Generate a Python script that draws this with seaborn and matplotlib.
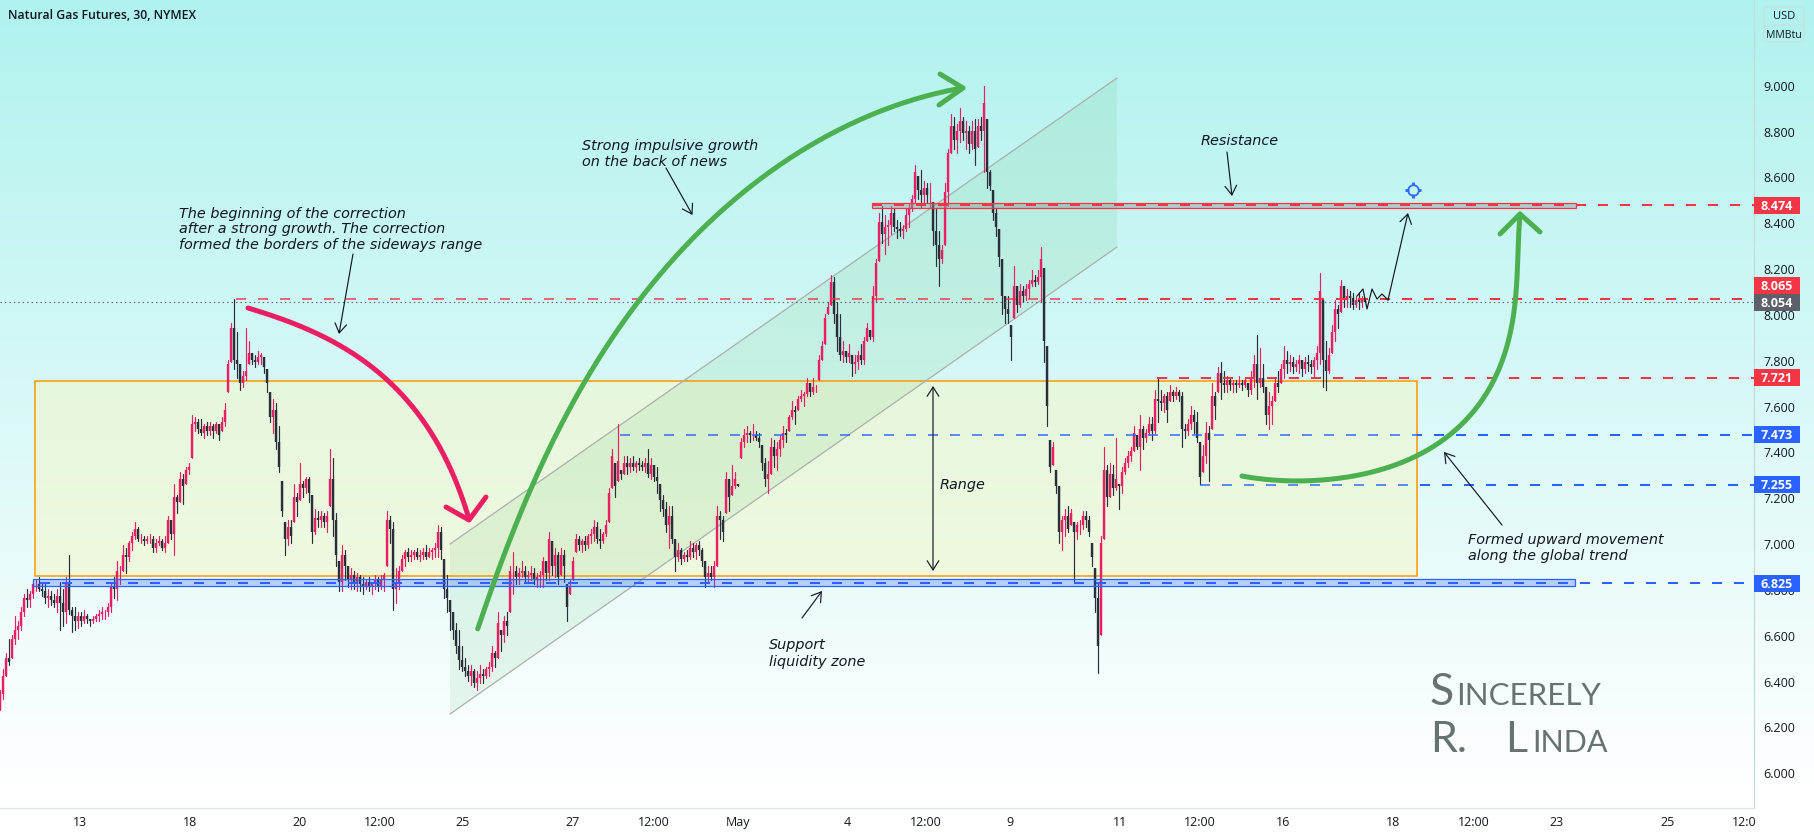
import numpy as np
import pandas as pd
import matplotlib
matplotlib.use("Agg")
import matplotlib.pyplot as plt
import matplotlib.transforms as mtransforms
from matplotlib.patches import Polygon, Rectangle, FancyBboxPatch
from matplotlib.colors import LinearSegmentedColormap
import seaborn as sns

# ---------- data ----------
bar_high = [
6.36,6.45,6.52,6.58,6.60,6.68,6.66,6.72,6.78,6.80,
6.79,6.83,6.84,6.85,6.83,6.82,6.80,6.79,6.78,6.80,
6.83,6.80,6.85,6.95,6.72,6.72,6.70,6.70,6.71,6.69,
6.67,6.68,6.69,6.71,6.72,6.71,6.74,6.83,6.85,6.92,
6.90,6.99,6.98,7.01,7.05,7.09,7.07,7.04,7.03,7.03,
7.04,7.03,7.02,7.03,7.02,7.03,7.12,7.10,7.26,7.21,
7.31,7.30,7.33,7.35,7.56,7.55,7.54,7.54,7.52,7.53,
7.53,7.52,7.53,7.52,7.55,7.61,7.80,7.96,8.065,7.92,
7.78,7.75,7.94,7.88,7.83,7.82,7.84,7.83,7.81,7.76,
7.66,7.63,7.61,7.51,7.27,7.09,7.10,7.10,7.26,7.22,
7.35,7.27,7.29,7.29,7.21,7.15,7.14,7.14,7.13,7.14,
7.41,7.37,7.13,6.92,6.99,6.97,6.90,6.89,6.88,6.87,
6.86,6.85,6.84,6.85,6.83,6.86,6.85,6.86,6.87,7.14,
7.12,7.09,6.89,6.90,6.95,6.97,6.98,6.97,6.97,6.98,
6.97,6.98,6.99,6.98,6.98,7.00,7.08,7.07,6.93,6.86,
6.75,6.70,6.65,6.62,6.55,6.50,6.47,6.47,6.45,6.44,
6.47,6.45,6.46,6.48,6.55,6.53,6.70,6.62,6.68,6.70,
6.90,6.96,6.90,6.89,6.92,6.90,6.88,6.90,6.89,6.87,
6.88,6.94,6.92,7.05,7.01,6.98,6.96,6.98,6.97,6.82,
6.84,6.94,7.04,7.03,7.02,7.03,7.04,7.06,7.10,7.09,
7.06,7.05,7.10,7.24,7.41,7.35,7.52,7.32,7.38,7.38,
7.37,7.38,7.36,7.37,7.36,7.37,7.41,7.37,7.34,7.33,
7.26,7.21,7.18,7.16,7.16,7.02,7.00,6.98,6.96,6.97,
7.01,7.00,7.00,7.01,6.98,6.92,6.90,6.90,6.92,7.16,
7.14,7.12,7.31,7.28,7.34,7.31,7.26,7.46,7.50,7.51,
7.49,7.52,7.49,7.48,7.43,7.37,7.36,7.46,7.45,7.44,
7.47,7.51,7.50,7.56,7.62,7.60,7.64,7.67,7.66,7.72,
7.70,7.72,7.69,7.82,7.88,8.00,8.05,8.17,8.16,8.05,
8.00,7.88,7.84,7.87,7.82,7.82,7.84,7.87,7.90,7.96,
7.93,8.12,8.24,8.44,8.47,8.43,8.41,8.47,8.46,8.41,
8.40,8.39,8.46,8.48,8.52,8.65,8.60,8.63,8.58,8.57,
8.57,8.49,8.46,8.36,8.30,8.57,8.72,8.87,8.86,8.83,
8.90,8.86,8.84,8.82,8.84,8.85,8.85,8.86,8.995,8.85,
8.63,8.54,8.46,8.37,8.24,8.08,8.08,7.95,8.21,8.12,
8.13,8.12,8.13,8.15,8.19,8.17,8.19,8.29,8.20,7.86,
7.45,7.44,7.32,7.25,7.12,7.15,7.16,7.15,7.09,7.09,
7.10,7.14,7.14,7.12,7.00,6.89,6.83,7.03,7.42,7.34,
7.35,7.34,7.46,7.26,7.33,7.37,7.40,7.42,7.51,7.47,
7.56,7.51,7.50,7.55,7.55,7.67,7.72,7.67,7.65,7.66,
7.69,7.67,7.68,7.67,7.66,7.52,7.54,7.60,7.58,7.57,
7.44,7.43,7.53,7.51,7.70,7.66,7.77,7.79,7.75,7.73,
7.72,7.71,7.71,7.73,7.71,7.72,7.70,7.75,7.82,7.91,
7.85,7.78,7.68,7.66,7.64,7.72,7.75,7.78,7.86,7.84,
7.82,7.81,7.80,7.82,7.80,7.81,7.82,7.80,7.81,7.86,
8.18,8.06,7.88,7.85,7.95,8.06,8.04,8.15,8.12,8.11,
8.10,8.09,8.08,8.09,8.08,8.07]
bar_low = [
6.27,6.32,6.42,6.47,6.50,6.56,6.58,6.62,6.68,6.72,
6.72,6.76,6.79,6.79,6.77,6.74,6.72,6.73,6.72,6.70,
6.62,6.64,6.65,6.69,6.61,6.62,6.63,6.64,6.65,6.65,
6.64,6.65,6.66,6.66,6.67,6.67,6.68,6.70,6.76,6.75,
6.82,6.88,6.87,6.92,6.97,7.02,7.01,7.00,6.99,7.00,
7.00,6.96,6.96,6.99,6.97,6.96,7.00,7.02,6.95,7.13,
7.18,7.17,7.26,7.30,7.37,7.49,7.48,7.47,7.46,7.47,
7.47,7.46,7.48,7.45,7.49,7.51,7.66,7.79,7.76,7.72,
7.67,7.68,7.71,7.78,7.78,7.77,7.78,7.78,7.74,7.66,
7.53,7.48,7.41,7.31,7.12,6.95,6.99,7.00,7.09,7.12,
7.19,7.20,7.22,7.18,7.00,7.04,7.07,7.07,7.07,7.05,
7.16,7.03,6.90,6.79,6.79,6.84,6.81,6.80,6.80,6.79,
6.79,6.78,6.80,6.79,6.78,6.80,6.79,6.80,6.79,6.90,
7.00,6.71,6.74,6.80,6.88,6.90,6.92,6.92,6.93,6.93,
6.92,6.93,6.93,6.94,6.93,6.94,6.94,6.93,6.76,6.70,
6.62,6.58,6.52,6.45,6.44,6.42,6.40,6.38,6.37,6.36,
6.39,6.39,6.41,6.42,6.44,6.46,6.50,6.53,6.57,6.60,
6.70,6.78,6.82,6.82,6.85,6.83,6.83,6.84,6.82,6.81,
6.81,6.81,6.84,6.84,6.86,6.85,6.82,6.86,6.83,6.66,
6.78,6.84,6.96,6.97,6.96,6.97,6.98,7.00,7.01,7.00,
6.98,7.00,7.03,7.09,7.24,7.20,7.27,7.28,7.30,7.30,
7.31,7.32,7.31,7.32,7.32,7.31,7.29,7.28,7.27,7.22,
7.14,7.12,7.05,6.98,7.00,6.88,6.92,6.91,6.92,6.92,
6.93,6.94,6.93,6.95,6.90,6.81,6.83,6.84,6.81,6.90,
7.02,7.01,7.13,7.14,7.21,7.24,7.25,7.37,7.42,7.44,
7.44,7.45,7.45,7.42,7.32,7.25,7.22,7.30,7.33,7.32,
7.38,7.42,7.44,7.49,7.54,7.52,7.58,7.62,7.60,7.64,
7.64,7.65,7.66,7.71,7.80,7.87,8.00,8.04,7.96,7.84,
7.80,7.79,7.79,7.79,7.73,7.74,7.76,7.78,7.78,7.88,
7.89,7.88,8.05,8.23,8.31,8.26,8.30,8.35,8.36,8.33,
8.34,8.33,8.36,8.38,8.45,8.49,8.50,8.46,8.48,8.49,
8.46,8.30,8.21,8.12,8.22,8.30,8.47,8.70,8.72,8.70,
8.75,8.76,8.72,8.70,8.72,8.65,8.73,8.76,8.62,8.55,
8.54,8.41,8.34,8.21,8.00,7.96,7.96,7.80,7.98,8.01,
8.03,8.05,8.06,8.07,8.12,8.12,8.13,8.05,7.79,7.51,
7.31,7.34,7.22,7.00,6.97,7.03,7.05,7.08,6.83,7.02,
7.04,7.06,7.07,7.03,6.90,6.70,6.435,6.60,7.02,7.16,
7.20,7.21,7.23,7.15,7.22,7.30,7.33,7.36,7.40,7.41,
7.32,7.41,7.44,7.47,7.45,7.48,7.53,7.58,7.57,7.53,
7.62,7.62,7.63,7.62,7.42,7.46,7.47,7.50,7.48,7.44,
7.26,7.31,7.35,7.27,7.50,7.54,7.66,7.63,7.66,7.66,
7.67,7.66,7.66,7.68,7.67,7.68,7.64,7.65,7.68,7.63,
7.68,7.66,7.52,7.50,7.52,7.62,7.66,7.70,7.72,7.74,
7.75,7.74,7.75,7.74,7.73,7.74,7.75,7.74,7.73,7.76,
7.78,7.68,7.67,7.74,7.83,7.88,7.94,8.01,8.03,8.03,
8.03,8.02,8.03,8.02,8.03,8.05]
bar_close = [
6.34,6.42,6.50,6.48,6.58,6.62,6.64,6.70,6.76,6.75,
6.78,6.82,6.82,6.80,6.79,6.76,6.77,6.75,6.74,6.77,
6.74,6.70,6.82,6.71,6.68,6.66,6.68,6.66,6.68,6.67,
6.66,6.67,6.68,6.69,6.70,6.70,6.72,6.81,6.80,6.88,
6.88,6.95,6.94,7.00,7.03,7.06,7.02,7.02,7.01,7.02,
7.02,6.98,7.00,7.01,6.98,7.00,7.10,7.04,7.20,7.18,
7.28,7.25,7.32,7.33,7.52,7.53,7.50,7.48,7.51,7.49,
7.51,7.49,7.52,7.47,7.53,7.58,7.78,7.94,7.80,7.78,
7.70,7.73,7.75,7.83,7.80,7.79,7.81,7.82,7.77,7.70,
7.55,7.58,7.44,7.33,7.14,7.02,7.07,7.03,7.20,7.18,
7.26,7.24,7.28,7.22,7.05,7.11,7.10,7.12,7.09,7.12,
7.28,7.10,6.95,6.83,6.95,6.90,6.84,6.86,6.82,6.85,
6.82,6.81,6.83,6.81,6.82,6.84,6.81,6.84,6.86,7.10,
7.06,6.80,6.83,6.88,6.93,6.96,6.94,6.95,6.96,6.94,
6.95,6.96,6.94,6.96,6.97,6.98,7.05,6.97,6.80,6.76,
6.70,6.62,6.55,6.49,6.46,6.44,6.42,6.44,6.39,6.41,
6.43,6.42,6.45,6.46,6.52,6.50,6.65,6.60,6.66,6.64,
6.88,6.88,6.85,6.87,6.88,6.85,6.86,6.87,6.84,6.85,
6.86,6.92,6.87,7.02,6.90,6.95,6.85,6.95,6.90,6.72,
6.81,6.92,7.02,6.99,7.01,6.99,7.03,7.04,7.07,7.02,
7.01,7.04,7.08,7.22,7.38,7.25,7.36,7.30,7.35,7.33,
7.35,7.33,7.35,7.34,7.33,7.35,7.30,7.34,7.29,7.27,
7.19,7.15,7.08,7.12,7.02,6.94,6.97,6.93,6.95,6.94,
6.98,6.96,6.99,6.97,6.92,6.85,6.87,6.85,6.90,7.12,
7.10,7.05,7.28,7.20,7.25,7.28,7.25,7.44,7.47,7.48,
7.47,7.47,7.46,7.44,7.35,7.28,7.30,7.42,7.38,7.41,
7.45,7.48,7.47,7.55,7.58,7.57,7.63,7.64,7.65,7.70,
7.66,7.68,7.68,7.80,7.86,7.98,8.03,8.14,8.00,7.90,
7.82,7.84,7.81,7.83,7.78,7.79,7.82,7.80,7.88,7.94,
7.90,8.08,8.22,8.40,8.35,8.38,8.39,8.44,8.38,8.37,
8.36,8.37,8.43,8.46,8.50,8.62,8.54,8.52,8.55,8.52,
8.52,8.36,8.30,8.24,8.28,8.53,8.70,8.82,8.76,8.80,
8.84,8.79,8.80,8.74,8.80,8.72,8.82,8.80,8.92,8.62,
8.56,8.44,8.38,8.25,8.08,8.02,8.00,7.90,8.12,8.04,
8.10,8.08,8.11,8.13,8.15,8.14,8.16,8.24,7.88,7.60,
7.33,7.42,7.25,7.05,7.10,7.12,7.06,7.13,7.05,7.08,
7.08,7.12,7.10,7.05,6.94,6.76,6.55,7.00,7.32,7.20,
7.30,7.24,7.28,7.25,7.31,7.35,7.38,7.40,7.48,7.42,
7.50,7.46,7.48,7.52,7.49,7.63,7.62,7.61,7.64,7.58,
7.66,7.64,7.66,7.64,7.50,7.49,7.52,7.56,7.53,7.46,
7.29,7.38,7.48,7.45,7.64,7.60,7.74,7.70,7.69,7.71,
7.69,7.70,7.69,7.70,7.69,7.71,7.67,7.72,7.78,7.70,
7.72,7.68,7.56,7.60,7.62,7.70,7.68,7.76,7.80,7.78,
7.79,7.77,7.78,7.80,7.76,7.79,7.78,7.77,7.80,7.83,
8.10,7.80,7.75,7.82,7.92,8.02,8.00,8.12,8.06,8.08,
8.07,8.04,8.06,8.05,8.07,8.054]

price_ticks = [6.0,6.2,6.4,6.6,6.8,7.0,7.2,7.4,7.6,7.8,8.0,8.2,8.4,8.6,8.8,9.0]
time_labels = ["13","18","20","12:00","25","27","12:00","May","4","12:00","9","11","12:00","16","18","12:00","23","25","12:0"]
time_bars = [26.7,63.3,100,126.7,154.3,191,218,246,282.3,308.7,336.7,373.3,400,427.7,464.3,491.3,519,555.7,581.3]

level_values = [8.474,8.065,8.054,7.721,7.473,7.255,6.825]
level_kinds = ["res","res","last","res","sup","sup","sup"]

# ---------- look ----------
sns.set_theme(style="white")
plt.rcParams["font.family"] = ["Open Sans", "DejaVu Sans"]
plt.rcParams["lines.scale_dashes"] = False
INK = "#131722"; RED = "#f23645"; BLUE = "#2962ff"; GREY = "#5d606b"
PINK = "#e91e63"; DARK = "#2a2e39"; GREEN = "#4caf50"; ORANGE = "#ff9800"

W, H, AX_R, AX_B = 1814, 837, 1754, 809
fig = plt.figure(figsize=(W/100, H/100), dpi=100)

bg = fig.add_axes([0, 0, 1, 1], zorder=0)
cmap = LinearSegmentedColormap.from_list("g", ["#b0f2ee", "#ffffff"])
bg.imshow(np.linspace(0, 1, 790).reshape(-1, 1), aspect="auto", cmap=cmap, extent=(0, W, 790, 0))
bg.set_xlim(0, W); bg.set_ylim(H, 0); bg.axis("off")

ax = fig.add_axes([0, (H-AX_B)/H, AX_R/W, AX_B/H], zorder=1)
ax.patch.set_alpha(0)
# pixel frame for the hand-drawn annotations
PX = mtransforms.Affine2D().scale(1, -1).translate(0, H)

# ---------- zones under the candles ----------
ax.add_patch(Rectangle((35, 382), 1382, 194.7, transform=PX, fc="#f4f7c6", alpha=0.5, ec="none", zorder=1))
ax.add_patch(Rectangle((35, 382), 1382, 194.7, transform=PX, fc="none", ec=ORANGE, lw=1.1, zorder=1.2))
ax.add_patch(Polygon([(450, 545), (1117, 79), (1117, 248), (450, 715)], transform=PX, fc=GREEN, alpha=0.10, ec="none", zorder=1.1))
for pts in ([(450, 545), (1117, 79)], [(450, 715), (1117, 248)]):
    ax.plot(*zip(*pts), transform=PX, color="#a9b0ab", lw=0.9, zorder=1.3, scalex=False, scaley=False)

# ---------- candles ----------
df = pd.DataFrame({"bar": np.arange(len(bar_close)), "high": bar_high, "low": bar_low, "close": bar_close})
df["open"] = df["close"].shift(1).fillna(df["low"]).clip(lower=df["low"], upper=df["high"])
df["dir"] = np.where(df["close"] >= df["open"], "up", "down")
pal = {"up": PINK, "down": DARK}
wicks = df.melt(id_vars=["bar", "dir"], value_vars=["high", "low"], value_name="price")
bodies = df.melt(id_vars=["bar", "dir"], value_vars=["open", "close"], value_name="price")
sns.lineplot(data=wicks, x="bar", y="price", hue="dir", units="bar", estimator=None, sort=False,
             palette=pal, lw=0.85, legend=False, ax=ax, zorder=3)
sns.lineplot(data=bodies, x="bar", y="price", hue="dir", units="bar", estimator=None, sort=False,
             palette=pal, lw=1.7, legend=False, ax=ax, zorder=3, solid_capstyle="butt")

# ---------- axes ----------
ax.set_xlim(0, AX_R/3)
ax.set_ylim(9 - (AX_B-85.7)/229.2, 9 + 85.7/229.2)
ax.set_xlabel(""); ax.set_ylabel("")
ax.yaxis.tick_right()
ax.set_yticks(price_ticks, [f"{v:.3f}" for v in price_ticks])
ax.set_xticks(time_bars, time_labels)
ax.tick_params(axis="y", length=0, pad=7, labelsize=9, labelcolor=INK)
ax.tick_params(axis="x", length=0, pad=5, labelsize=9, labelcolor=INK)
ax.grid(False)
sns.despine(ax=ax, top=True, left=True, right=False, bottom=False)
ax.spines["right"].set_color("#c3dcda"); ax.spines["bottom"].set_color("#dfe3e6")
ax.spines["right"].set_linewidth(0.9); ax.spines["bottom"].set_linewidth(0.9)

# ---------- zones and levels ----------
ax.add_patch(Rectangle((33, 580), 1542, 7.3, transform=PX, fc="#2962ff", alpha=0.27, ec="none", zorder=4))
ax.add_patch(Rectangle((33, 580), 1542, 7.3, transform=PX, fc="none", ec=BLUE, lw=0.9, zorder=4.1))
ax.add_patch(Rectangle((872, 204), 704, 4.7, transform=PX, fc="#9a9a9a", alpha=0.45, ec="none", zorder=4))
ax.add_patch(Rectangle((872, 204), 704, 4.7, transform=PX, fc="none", ec=RED, lw=0.9, zorder=4.1))

level_start = {8.474: 872, 8.065: 236, 7.721: 1157, 7.473: 620, 7.255: 1200, 6.825: 40}
wash_until = {8.065: 1117, 7.473: 1417, 7.255: 1417}   # lines show paler under the zones
DASH = (0, (7.2, 8.64))
for v, k in zip(level_values, level_kinds):
    if k == "last":
        ax.plot([0, AX_R/3], [v, v], color=GREY, lw=0.8, ls=(0, (1, 2.2)), zorder=4.2, scalex=False, scaley=False)
        continue
    c = RED if k == "res" else BLUE
    split = wash_until.get(v)
    if split is None:
        ax.plot([level_start[v]/3, AX_R/3], [v, v], color=c, lw=1.45, ls=DASH, zorder=4.3, scalex=False, scaley=False)
    else:
        pale, = ax.plot([level_start[v]/3, AX_R/3], [v, v], color=c, alpha=0.72, lw=1.45, ls=DASH, zorder=4.3, scalex=False, scaley=False)
        pale.set_clip_path(Rectangle((0, 0), split, AX_B, transform=PX))
        full, = ax.plot([level_start[v]/3, AX_R/3], [v, v], color=c, lw=1.45, ls=DASH, zorder=4.3, scalex=False, scaley=False)
        full.set_clip_path(Rectangle((split, 0), AX_R-split, AX_B, transform=PX))

box_center = {8.065: 286.5, 8.054: 303.5}
kind_col = {"res": RED, "sup": BLUE, "last": GREY}
for v, k in zip(level_values, level_kinds):
    yc = box_center.get(v, 85.7 + (9 - v)*229.2)
    ax.add_patch(Rectangle((1754, yc-8.5), 46, 17, transform=PX, fc=kind_col[k], ec="none", zorder=8, clip_on=False))
    ax.text(1777, yc, f"{v:.3f}", transform=PX, color="white", fontsize=9, fontweight="bold",
            ha="center", va="center", zorder=9, clip_on=False)

# ---------- curves ----------
def curve(pts, color, lw=3.6, z=6, deg=5):
    p = np.array(pts, float)
    s = np.r_[0, np.cumsum(np.hypot(*np.diff(p, axis=0).T))]
    s /= s[-1]
    t = np.linspace(0, 1, 200)
    x = np.polyval(np.polyfit(s, p[:, 0], deg), t)
    y = np.polyval(np.polyfit(s, p[:, 1], deg), t)
    ax.plot(x, y, transform=PX, color=color, lw=lw, zorder=z, solid_capstyle="round",
            solid_joinstyle="round", scalex=False, scaley=False, clip_on=False)

curve([(248, 309), (290, 323), (333, 343), (387, 380), (419, 417), (448, 464), (469, 520)], PINK, deg=4)
ax.plot([446, 469, 486], [508, 521, 498], transform=PX, color=PINK, lw=3.6, zorder=6, scalex=False, scaley=False, solid_capstyle="round")
curve([(478, 630), (495, 578), (534, 485), (585, 381), (641, 299), (737, 199), (826, 137), (895, 107), (962, 89)], GREEN)
ax.plot([940, 963, 939], [75, 89, 106], transform=PX, color=GREEN, lw=3.6, zorder=6, scalex=False, scaley=False, solid_capstyle="round")
curve([(1242, 477), (1297, 482), (1363, 475), (1417, 457), (1463, 423), (1497, 377), (1513, 313), (1518, 267), (1520, 215)], GREEN, deg=6)
ax.plot([1500, 1520, 1540], [235, 215, 233], transform=PX, color=GREEN, lw=3.6, zorder=6, scalex=False, scaley=False, solid_capstyle="round")

# ---------- thin arrows ----------
def arrow(a, b, style="->"):
    ax.annotate("", xy=b, xytext=a, xycoords=PX, textcoords=PX, zorder=7, annotation_clip=False,
                arrowprops=dict(arrowstyle=f"{style},head_length=0.55,head_width=0.35", color=INK, lw=0.85,
                                shrinkA=0, shrinkB=0))

arrow((353, 255), (339, 335))
arrow((666, 169), (692.5, 216))
arrow((1227, 153), (1232, 197))
arrow((933, 387), (933, 572), "<->")
arrow((802, 619), (822, 592))
arrow((1502, 526), (1444, 453))
ax.plot([1357, 1363, 1367, 1372, 1377, 1382, 1388], [297, 290, 310, 290, 300, 295, 301], transform=PX,
        color=INK, lw=0.85, zorder=7, scalex=False, scaley=False)
arrow((1388, 301), (1408, 214))

# ---------- crosshair icon ----------
ic = (1413, 190.7)
ICON = "#2f6bff"
for dx, dy in ((0, -1), (0, 1), (-1, 0), (1, 0)):
    ax.plot([ic[0]+4.5*dx, ic[0]+8*dx], [ic[1]+4.5*dy, ic[1]+8*dy], transform=PX, color=ICON, lw=2.1, zorder=7,
            scalex=False, scaley=False, solid_capstyle="butt")
ax.plot([ic[0]], [ic[1]], transform=PX, marker="o", ms=7.6, mfc="none", mec=ICON, mew=1.3, zorder=7.1, scalex=False, scaley=False)

# ---------- texts ----------
def note(x, ys, lines, ha="left"):
    for y, s in zip(ys, lines):
        ax.text(x, y, s, transform=PX, color=INK, fontsize=10.4, family="DejaVu Sans", style="italic",
                ha=ha, va="center", zorder=7, clip_on=False)

note(179, [214, 229, 245], ["The beginning of the correction", "after a strong growth. The correction",
                            "formed the borders of the sideways range"])
note(582, [146, 162], ["Strong impulsive growth", "on the back of news"])
note(1201, [141], ["Resistance"])
note(940, [485], ["Range"])
note(769, [645, 662], ["Support", "liquidity zone"])
note(1468, [540, 556], ["Formed upward movement", "along the global trend"])

ax.text(8, 16, "Natural Gas Futures, 30, NYMEX", transform=PX, color=INK, fontsize=8.85, fontweight=600,
        ha="left", va="center", zorder=9, clip_on=False)

# ---------- unit box ----------
ax.add_patch(FancyBboxPatch((1764, 8), 40, 35, boxstyle="round,pad=0,rounding_size=4", transform=PX,
                            fc="none", ec="#c8dfdf", lw=0.9, zorder=9, clip_on=False))
ax.plot([1764, 1804], [25.5, 25.5], transform=PX, color="#c8dfdf", lw=0.9, zorder=9, scalex=False, scaley=False, clip_on=False)
ax.text(1784, 16.5, "USD", transform=PX, color=INK, fontsize=8, ha="center", va="center", zorder=9, clip_on=False)
ax.text(1784, 35.5, "MMBtu", transform=PX, color=INK, fontsize=7.6, ha="center", va="center", zorder=9, clip_on=False)

# ---------- signature ----------
SIG = "#687272"
def sig(x, y, s, size):
    ax.text(x, y, s, transform=PX, color=SIG, fontsize=size, family="Lato", fontweight="regular",
            ha="left", va="baseline", zorder=2, clip_on=False)
sig(1429, 705, "S", 32); sig(1456, 705, "INCERELY", 22.5)
sig(1430, 752, "R.", 31); sig(1505, 752, "L", 31); sig(1532, 752, "INDA", 22)

fig.savefig("out.png", dpi=100)
